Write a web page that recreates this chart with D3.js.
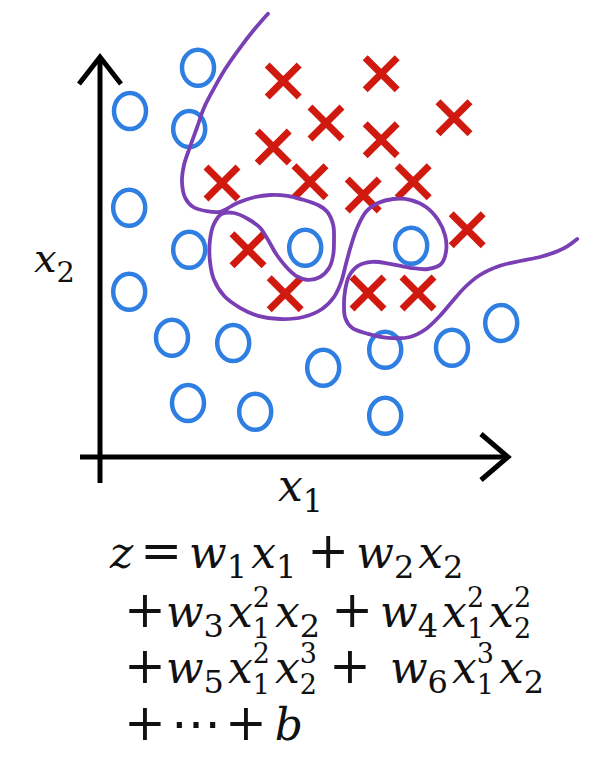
<!DOCTYPE html>
<html>
<head>
<meta charset="utf-8">
<script src="https://cdn.jsdelivr.net/npm/d3@7"></script>
<style>
html, body { margin: 0; padding: 0; background: #ffffff; }
svg { display: block; }
</style>
</head>
<body>
<svg id="chart" width="611" height="774"></svg>
<script>
// ---------------- DATA (x1, x2 in chart units) ----------------
const circleX1 = [2.45, 0.75, 2.23, 0.73, 2.23, 5.13, 7.78, 0.73, 1.80, 3.33, 5.58, 7.13, 8.80, 10.03, 2.20, 3.88, 7.13];
const circleX2 = [9.73, 8.65, 8.20, 6.23, 5.18, 5.23, 5.28, 4.13, 2.98, 2.85, 2.23, 2.68, 2.73, 3.35, 1.35, 1.13, 1.03];

const crossX1 = [4.58, 7.03, 8.85, 5.65, 7.03, 4.33, 3.05, 5.25, 6.58, 7.83, 9.18, 3.70, 4.63, 6.70, 7.95];
const crossX2 = [9.40, 9.58, 8.48, 8.35, 7.93, 7.75, 6.85, 6.88, 6.55, 6.88, 5.68, 5.18, 4.08, 4.10, 4.10];

// decision boundary (hand-drawn curve), traced point by point
const boundaryX1 = [4.20, 3.85, 3.50, 3.15, 2.83, 2.60, 2.43, 2.25, 2.10, 2.05, 2.13, 2.33, 2.65, 3.00,
  3.43, 3.88, 4.25, 4.68, 5.08, 5.45, 5.68, 5.83, 5.85, 5.83, 5.73, 5.50, 5.20, 4.90, 4.63, 4.40, 4.20,
  4.00, 3.70, 3.35, 3.05, 2.85, 2.75, 2.75, 2.85, 3.10, 3.50, 3.95, 4.50, 5.08, 5.55, 5.85, 6.03, 6.15,
  6.28, 6.43, 6.65, 6.95, 7.33, 7.75, 8.15, 8.45, 8.63, 8.65, 8.53, 8.20, 7.75, 7.25, 6.80, 6.45, 6.23,
  6.13, 6.10, 6.13, 6.30, 6.70, 7.20, 7.75, 8.15, 8.50, 8.80, 9.13, 9.50, 10.00, 10.50, 11.00, 11.45,
  11.70, 11.93];
const boundaryX2 = [11.08, 10.68, 10.23, 9.73, 9.18, 8.73, 8.25, 7.75, 7.30, 6.88, 6.48, 6.25, 6.15, 6.13,
  6.35, 6.50, 6.55, 6.53, 6.43, 6.30, 6.13, 5.80, 5.43, 5.05, 4.73, 4.50, 4.43, 4.53, 4.78, 5.08, 5.43,
  5.73, 5.95, 6.10, 6.08, 5.83, 5.43, 4.88, 4.43, 4.03, 3.73, 3.53, 3.45, 3.50, 3.70, 4.00, 4.38, 4.83,
  5.30, 5.73, 6.13, 6.35, 6.45, 6.43, 6.25, 5.93, 5.53, 5.13, 4.83, 4.70, 4.73, 4.83, 4.88, 4.78, 4.53,
  4.18, 3.80, 3.48, 3.23, 3.08, 2.98, 3.00, 3.20, 3.53, 3.88, 4.25, 4.55, 4.78, 4.90, 5.00, 5.15,
  5.28, 5.45];

// axis extents (chart units)
const axisX1Extent = [-0.5, 10.2];
const axisX2Extent = [-0.65, 10.0];

// labels
const axisLabelX1 = { base: "x", sub: "1" };
const axisLabelX2 = { base: "x", sub: "2" };

// formula, token kinds: i = italic letter, o = operator, s = subscript, ps = superscript over subscript
const formulaLines = [
  [["z","i"],["=","o"],["w","i"],["1","s"],["x","i"],["1","s"],["+","o"],["w","i"],["2","s"],["x","i"],["2","s"]],
  [["+","o0"],["w","i"],["3","s"],["x","i"],["2|1","ps"],["x","i"],["2","s"],["+","o"],["w","i"],["4","s"],["x","i"],["2|1","ps"],["x","i"],["2|2","ps"]],
  [["+","o0"],["w","i"],["5","s"],["x","i"],["2|1","ps"],["x","i"],["3|2","ps"],["+","o"],["w","iw"],["6","s"],["x","i"],["3|1","ps"],["x","i"],["2","s"]],
  [["+","o0"],["⋯","dots"],["+","o4"],["b","i"]]
];

// ---------------- DRAWING ----------------
const svg = d3.select("#chart");
const x = d3.scaleLinear().domain([0, 10]).range([100, 500]);
const y = d3.scaleLinear().domain([0, 10]).range([457, 57]);

const BLUE = "#2f7fe3", RED = "#d0190f", PURPLE = "#7a3fb4";

// axes
const axisG = svg.append("g").attr("stroke", "#000").attr("stroke-width", 5).attr("fill", "none")
  .attr("stroke-linecap", "butt");
axisG.append("line")
  .attr("x1", x(axisX1Extent[0])).attr("x2", x(axisX1Extent[1]))
  .attr("y1", y(0)).attr("y2", y(0));
axisG.append("line")
  .attr("x1", x(0)).attr("x2", x(0))
  .attr("y1", y(axisX2Extent[0])).attr("y2", y(axisX2Extent[1]));
const tipX = [x(axisX1Extent[1]), y(0)];
axisG.append("path").attr("stroke-linejoin", "miter")
  .attr("d", `M${tipX[0]-27},${tipX[1]-23} L${tipX[0]},${tipX[1]} L${tipX[0]-27},${tipX[1]+23}`);
const tipY = [x(0), y(axisX2Extent[1])];
axisG.append("path").attr("stroke-linejoin", "miter")
  .attr("d", `M${tipY[0]-21},${tipY[1]+27} L${tipY[0]},${tipY[1]} L${tipY[0]+21},${tipY[1]+27}`);

// circles
const circles = circleX1.map((v, i) => ({ x1: v, x2: circleX2[i] }));
svg.append("g").selectAll("ellipse").data(circles).join("ellipse")
  .attr("cx", d => x(d.x1)).attr("cy", d => y(d.x2))
  .attr("rx", 16).attr("ry", 18)
  .attr("fill", "none").attr("stroke", BLUE).attr("stroke-width", 4.5);

// crosses
const crosses = crossX1.map((v, i) => ({ x1: v, x2: crossX2[i] }));
const s = 16;
svg.append("g").selectAll("path").data(crosses).join("path")
  .attr("transform", d => `translate(${x(d.x1)},${y(d.x2)})`)
  .attr("d", `M${-s},${-s}L${s},${s}M${-s},${s}L${s},${-s}`)
  .attr("fill", "none").attr("stroke", RED).attr("stroke-width", 7);

// boundary
const boundary = boundaryX1.map((v, i) => [v, boundaryX2[i]]);
svg.append("path").datum(boundary)
  .attr("d", d3.line().x(d => x(d[0])).y(d => y(d[1])).curve(d3.curveCatmullRom.alpha(0.5)))
  .attr("fill", "none").attr("stroke", PURPLE).attr("stroke-width", 3.8)
  .attr("stroke-linecap", "round").attr("stroke-linejoin", "round");

// axis labels
const SERIF = "'DejaVu Serif', serif";
function label(g, lab, px, py, size) {
  const t = g.append("text").attr("x", px).attr("y", py).attr("font-family", SERIF).attr("fill", "#111");
  t.append("tspan").attr("font-style", "italic").attr("font-size", size).text(lab.base);
  t.append("tspan").attr("font-size", size * 0.72).attr("dy", size * 0.25).text(lab.sub);
}
label(svg, axisLabelX1, 278, 501, 44);
label(svg, axisLabelX2, 34, 272, 40);

// formula
const F = 44;          // main size
const OP = 50;         // operator size
const SUB = 32;        // simple subscript size
const STK = 27;        // stacked script size
const lineStarts = [[110, 568], [124, 627], [124, 683], [124, 740]];
const fg = svg.append("g").attr("font-family", SERIF).attr("fill", "#111");

function put(txt, px, py, size, italic) {
  const t = fg.append("text").attr("x", px).attr("y", py).attr("font-size", size)
    .attr("font-style", italic ? "italic" : "normal").text(txt);
  return t.node().getComputedTextLength();
}
function putStack(sup, sb, px, py) {
  const t = fg.append("text").attr("x", px).attr("y", py - 20).attr("font-size", STK);
  t.append("tspan").text(sup);
  t.append("tspan").attr("x", px).attr("dy", 31).text(sb);
  return t.node().getBBox().width;
}

formulaLines.forEach((tokens, li) => {
  let cx = lineStarts[li][0];
  const by = lineStarts[li][1];
  tokens.forEach(([t, k]) => {
    if (k === "i") { cx += put(t, cx, by, F, true); }
    else if (k === "iw") { cx += 12; cx += put(t, cx, by, F, true); }
    else if (k === "o") { cx += 7; cx += put(t, cx, by, OP, false); cx += 7; }
    else if (k === "o4") { cx += 4; cx += put(t, cx, by, OP, false); cx += 8; }
    else if (k === "o0") { cx += put(t, cx, by, OP, false); }
    else if (k === "dots") { cx += 5; cx += put(t, cx, by, OP, false); }
    else if (k === "s") { cx += put(t, cx, by + 10, SUB, false) + 4; }
    else if (k === "ps") {
      const [sup, sb] = t.split("|");
      cx += putStack(sup, sb, cx, by) + 5;
    }
  });
});
</script>
</body>
</html>
